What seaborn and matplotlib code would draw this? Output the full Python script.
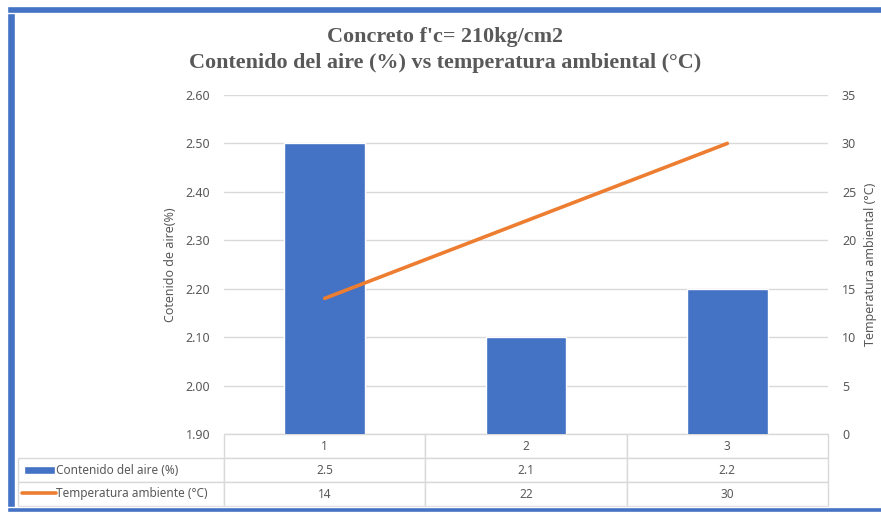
import matplotlib
matplotlib.use('Agg')
import matplotlib.pyplot as plt
import seaborn as sns
import numpy as np
from matplotlib.patches import Rectangle
from matplotlib.lines import Line2D

# Datos del gráfico
categorias = ['1', '2', '3']
contenido_aire = [2.5, 2.1, 2.2]
temperatura = [14, 22, 30]
serie_barras = 'Contenido del aire (%)'
serie_linea = 'Temperatura ambiente (°C)'
titulo = "Concreto f'c= 210kg/cm2\nContenido del aire (%) vs temperatura ambiental (°C)"

azul = '#4472C4'
naranja = '#ED7D31'
gris = '#595959'
rejilla = '#D9D9D9'

sns.set_style('white')
plt.rcParams['font.family'] = ['Noto Sans', 'DejaVu Sans']

fig = plt.figure(figsize=(8.81, 5.12), dpi=100)
ax1 = fig.add_axes([224 / 881, 1 - 434 / 512, 604 / 881, 339 / 512])
ax2 = ax1.twinx()

pos = np.arange(len(categorias))

# Barras (eje izquierdo)
sns.barplot(x=categorias, y=contenido_aire, color=azul, width=0.4,
            saturation=1, ax=ax1, zorder=2)
ax1.set_ylim(1.9, 2.6)
ax1.set_yticks(np.arange(1.9, 2.61, 0.1))
ax1.set_yticklabels([f'{v:.2f}' for v in np.arange(1.9, 2.61, 0.1)])
ax1.set_xlim(-0.5, len(categorias) - 0.5)
ax1.grid(axis='y', color=rejilla, linewidth=1, zorder=0)
ax1.set_axisbelow(True)
ax1.set_xticks([])
ax1.set_xlabel('')
ax1.set_ylabel('Cotenido de aire(%)', color=gris, fontsize=9, labelpad=6)

# Línea (eje derecho)
sns.lineplot(x=pos, y=temperatura, color=naranja, linewidth=2.6, ax=ax2)
ax2.set_ylim(0, 35)
ax2.set_yticks(range(0, 36, 5))
ax2.set_ylabel('Temperatura ambiental (°C)', color=gris, fontsize=9, labelpad=6)
ax2.set_xlim(-0.5, len(categorias) - 0.5)

for ax in (ax1, ax2):
    for s in ax.spines.values():
        s.set_visible(False)
    ax.tick_params(axis='y', colors=gris, labelsize=9, length=0, pad=10)

# Tabla de datos
ancho_celda = 1 / 3
ancho_etiqueta = 206 / 604
tabla = ax1.table(cellText=[[str(v) for v in contenido_aire],
                            [str(v) for v in temperatura]],
                  rowLabels=[serie_barras, serie_linea],
                  colLabels=categorias,
                  colWidths=[ancho_celda] * 3,
                  cellLoc='center', rowLoc='left',
                  bbox=[0, -72 / 339, 1, 72 / 339])
tabla._autoColumns = []
tabla.auto_set_font_size(False)
tabla.set_fontsize(8.5)
for (r, c), celda in tabla.get_celld().items():
    celda.set_edgecolor(rejilla)
    celda.set_linewidth(1)
    celda.get_text().set_color(gris)
    if c == -1:
        celda.set_width(ancho_etiqueta)
        celda.PAD = 38 / 206

# Claves de leyenda en la tabla
ax1.add_patch(Rectangle(((24 - 224) / 604, (434 - 474) / 339), 31 / 604, 8 / 339,
                        transform=ax1.transAxes, facecolor=azul, clip_on=False))
ax1.add_line(Line2D([(22 - 224) / 604, (56 - 224) / 604],
                    [(434 - 493) / 339] * 2, transform=ax1.transAxes,
                    color=naranja, linewidth=2.6, clip_on=False))

# Título
fig.text(445 / 881, 1 - 50 / 512, titulo, ha='center', va='center',
         family=['Liberation Serif'], fontweight='bold', fontsize=15.9,
         color=gris, linespacing=1.35)

# Borde azul
fig.patches.append(Rectangle((7 / 881, 0), 8 / 881, 1 - 6 / 512,
                             transform=fig.transFigure, facecolor=azul))
fig.patches.append(Rectangle((7 / 881, 1 - 13 / 512), 1, 7 / 512,
                             transform=fig.transFigure, facecolor=azul))
fig.patches.append(Rectangle((7 / 881, 0), 1, 5 / 512,
                             transform=fig.transFigure, facecolor=azul))

fig.savefig('out.png', dpi=100)
plt.close()
